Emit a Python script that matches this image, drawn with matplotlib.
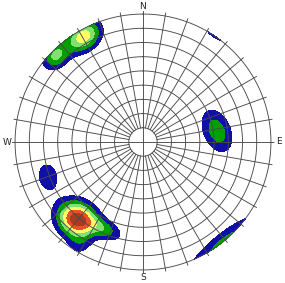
import numpy as np
import matplotlib
matplotlib.use("Agg")
import matplotlib.pyplot as plt

# Cluster data (azimuth deg clockwise from N, dip 0-90, peak density, spreads, orientation)
cluster_azimuth = [331.0, 314.5, 322.5, 81.5, 249.8, 220.5, 204.0, 212.0, 141.0, 34.3]
cluster_dip     = [85.3, 86.5, 84.0, 52.6, 71.2, 71.5, 67.0, 85.0, 90.8, 91.1]
cluster_peak    = [4.45, 3.1, 0.6, 2.6, 1.6, 6.7, 2.3, 1.1, 2.3, 1.6]
cluster_major   = [8.5, 7.0, 8.0, 11.0, 8.7, 9.5, 9.0, 6.0, 22.0, 7.0]
cluster_minor   = [6.3, 5.5, 6.5, 6.8, 6.2, 8.0, 4.5, 6.0, 5.0, 2.1]
cluster_orient  = [37, 55, 40, -67, -80, -30, -25, 0, 38, -31]

levels = [1, 2, 3, 4, 5, 6, 1000]
level_colors = ['#1010a8', '#00a000', '#80e070', '#ffff66', '#e8502a', '#a83c20']

dip_circles = [10, 20, 30, 40, 50, 60, 70, 80, 90]
azimuth_lines = list(range(0, 360, 10))
cardinal_labels = ['N', 'E', 'S', 'W']
cardinal_az = [0, 90, 180, 270]

fig = plt.figure(figsize=(2.85, 2.83), dpi=100)
W, H = 285, 283
cx, cy, Rax = 143, 141, 131.5
ax = fig.add_axes([(cx - Rax) / W, (cy - Rax) / H, 2 * Rax / W, 2 * Rax / H],
                  projection='polar')
ax.set_theta_zero_location('N')
ax.set_theta_direction(-1)
ax.set_rlim(0, 92.5)
ax.grid(False)
ax.set_xticks([])
ax.set_yticks([])
ax.spines['polar'].set_visible(False)
ax.patch.set_alpha(0)

# density field
th = np.radians(np.linspace(0, 360, 721))
rr = np.linspace(0, 90, 451)
T, Rg = np.meshgrid(th, rr)
X = Rg * np.sin(T)
Y = Rg * np.cos(T)
Z = np.zeros_like(X)
for az, dp, amp, smaj, smin, ang in zip(cluster_azimuth, cluster_dip, cluster_peak,
                                         cluster_major, cluster_minor, cluster_orient):
    ccx = dp * np.sin(np.radians(az))
    ccy = dp * np.cos(np.radians(az))
    dx = X - ccx
    dy = Y - ccy
    a = np.radians(ang)
    u = dx * np.cos(a) + dy * np.sin(a)
    v = -dx * np.sin(a) + dy * np.cos(a)
    Z += amp * np.exp(-0.5 * (u ** 2 / smaj ** 2 + v ** 2 / smin ** 2))

ax.contourf(T, Rg, Z, levels=levels, colors=level_colors, zorder=1)

gc = '#4a4a4a'
lw = 0.65
tt = np.linspace(0, 2 * np.pi, 721)
for r in dip_circles:
    ax.plot(tt, np.full_like(tt, r), color=gc, lw=lw, zorder=3)
for a in azimuth_lines:
    r0 = 0 if a % 90 == 0 else 10
    ax.plot([np.radians(a)] * 2, [r0, 92.5], color=gc, lw=lw, zorder=3)

for lab, a in zip(cardinal_labels, cardinal_az):
    ax.text(np.radians(a), 95.5, lab, ha='center', va='center', fontsize=6.5,
            color='#222222', clip_on=False)

fig.savefig('out.png', dpi=100, facecolor='white')
